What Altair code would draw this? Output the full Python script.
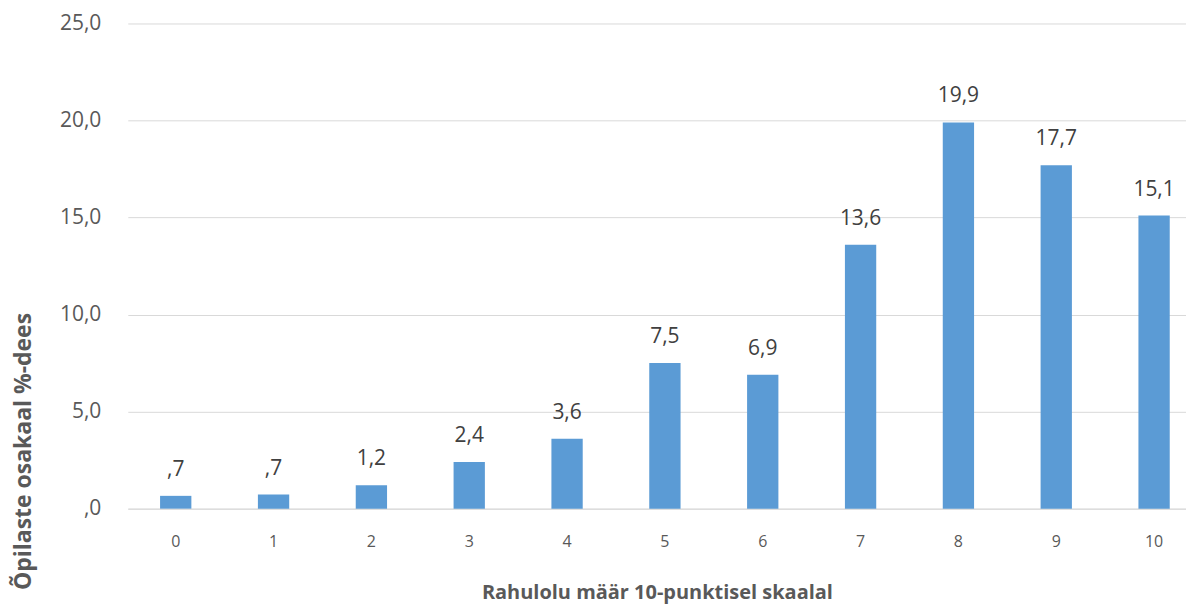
import altair as alt
import pandas as pd

categories = ["0", "1", "2", "3", "4", "5", "6", "7", "8", "9", "10"]
values = [0.66, 0.73, 1.2, 2.4, 3.6, 7.5, 6.9, 13.6, 19.9, 17.7, 15.1]

df = pd.DataFrame({"cat": categories, "val": values})

FONT = "Open Sans"
fmt_expr = "datum.val < 1 ? replace(format(datum.val, '.1f'), '0.', ',') : replace(format(datum.val, '.1f'), '.', ',')"
axis_expr = "datum.value < 1 ? replace(format(datum.value, '.1f'), '0.', ',') : replace(format(datum.value, '.1f'), '.', ',')"

x = alt.X("cat:N", sort=categories,
          scale=alt.Scale(paddingInner=0.68, paddingOuter=0.248, align=0.665),
          axis=alt.Axis(title="Rahulolu määr 10-punktisel skaalal", labelAngle=0,
                        labelFontSize=16, labelColor="#595959", labelPadding=25,
                        titleFontSize=20, titleFontWeight="bold", titleColor="#595959",
                        titlePadding=33, ticks=False, domain=True,
                        domainColor="#D9D9D9", grid=False, labelFont=FONT, titleFont=FONT))
y = alt.Y("val:Q", scale=alt.Scale(domain=[0, 25], nice=False),
          axis=alt.Axis(title="Õpilaste osakaal %-dees", values=[0, 5, 10, 15, 20, 25],
                        labelExpr=axis_expr, labelFontSize=21, labelColor="#595959",
                        labelPadding=27, titleFontSize=23, titleFontWeight="bold",
                        titleColor="#595959", titleAngle=270, titleX=-104, titleY=567,
                        titleAlign="left", titleBaseline="middle",
                        ticks=False, domain=False,
                        gridColor="#D9D9D9", gridWidth=1, labelFont=FONT, titleFont=FONT))

bars = alt.Chart(df).mark_bar(color="#5B9BD5").encode(x=x, y=y)
text = alt.Chart(df).transform_calculate(lbl=fmt_expr).mark_text(
    dy=-26, fontSize=21, color="#404040", font=FONT, baseline="middle"
).encode(x=alt.X("cat:N", sort=categories), y="val:Q", text="lbl:N")

chart = (bars + text).properties(
    width=1060, height=486, background="white",
    padding={"left": 5, "top": 4, "right": 0, "bottom": 3}
).configure_view(stroke=None)

chart.save("out.html", embed_options={"renderer": "svg", "actions": False})
